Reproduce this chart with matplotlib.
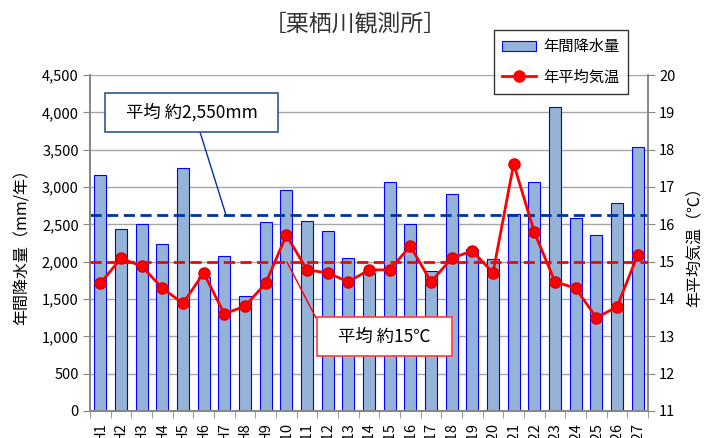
import matplotlib
matplotlib.use('Agg')
import matplotlib.pyplot as plt
from matplotlib.patches import Rectangle
from matplotlib.lines import Line2D
import numpy as np

plt.rcParams['font.family'] = ['Noto Sans CJK JP', 'DejaVu Sans']

# データ
nendo = ['H%d' % i for i in range(1, 28)]
kousuiryou = [3160, 2440, 2500, 2240, 3250, 1790, 2080, 1540, 2530, 2960,
              2545, 2415, 2045, 1850, 3065, 2500, 1880, 2905, 2170, 2030,
              2640, 3065, 4070, 2585, 2360, 2790, 3530]
kion = [14.42, 15.09, 14.88, 14.29, 13.88, 14.70, 13.60, 13.81, 14.42, 15.71,
        14.78, 14.70, 14.46, 14.78, 14.78, 15.42, 14.46, 15.09, 15.29, 14.70,
        17.62, 15.79, 14.46, 14.29, 13.50, 13.79, 15.18]
heikin_kousui = 2620   # 線の位置（ラベルは約2,550mm）
heikin_kion = 15.0

W, H = 708, 438
fig = plt.figure(figsize=(W / 100, H / 100), dpi=100)
ax = fig.add_axes([90 / W, 1 - 411 / H, (648 - 90) / W, (411 - 75) / H])
ax2 = ax.twinx()

x = np.arange(len(nendo))
grid_c = '#A6A6A6'
spine_c = '#868686'

# 降水量の棒
ax.bar(x, kousuiryou, width=0.58, color='#95B3D7', edgecolor='#0000FF',
       linewidth=0.8, zorder=2)
ax.set_ylim(0, 4500)
ax.set_yticks(np.arange(0, 4501, 500))
ax.set_yticklabels(['{:,}'.format(v) for v in range(0, 4501, 500)])
ax.set_xlim(-0.5, len(nendo) - 0.5)
ax.yaxis.grid(True, color=grid_c, linewidth=1, zorder=0)
ax.set_axisbelow(True)
ax.axhline(heikin_kousui, color='#0033A0', linestyle=(0, (4, 2)), linewidth=2, zorder=3)

ax.set_xticks(x)
ax.set_xticklabels(nendo, rotation=90, fontsize=10.5)
ax.set_xticks(np.arange(-0.5, len(nendo), 1), minor=True)
ax.tick_params(axis='x', which='major', length=0, pad=8)
ax.tick_params(axis='x', which='minor', length=5, color=spine_c, direction='out')
ax.tick_params(axis='y', length=5, color=spine_c, labelsize=10.5, pad=3)

# 気温の折れ線
ax2.plot(x, kion, color='#FF0000', linewidth=2, marker='o', markersize=8,
         markerfacecolor='#FF0000', markeredgecolor='#E00000', zorder=4)
ax2.axhline(heikin_kion, color='#FF0000', linestyle=(0, (4, 2)), linewidth=2, zorder=3)
ax2.set_ylim(11, 20)
ax2.set_yticks(range(11, 21))
ax2.tick_params(axis='y', length=5, color=spine_c, labelsize=10.5, pad=3)

ax.set_zorder(1)
ax2.set_zorder(2)
ax.patch.set_visible(False)

for a in (ax, ax2):
    a.spines['top'].set_visible(False)
    for s in ('left', 'right', 'bottom'):
        a.spines[s].set_color(spine_c)
        a.spines[s].set_linewidth(1.2)

ax.set_ylabel('年間降水量（mm/年）', fontsize=11.5, labelpad=8)
ax2.set_ylabel('年平均気温（℃）', fontsize=11.5, rotation=90, labelpad=8)

fig.text(355 / W, 1 - 24 / H, '［栗栖川観測所］', fontsize=16.5, ha='center',
         va='center', color='#333333')

# 凡例
leg = ax2.legend(
    [Rectangle((0, 0), 1, 1, facecolor='#95B3D7', edgecolor='#0000FF', linewidth=0.8),
     Line2D([], [], color='#FF0000', linewidth=2, marker='o', markersize=8)],
    ['年間降水量', '年平均気温'],
    loc='upper left', bbox_to_anchor=(494 / W, 1 - 30 / H), bbox_transform=fig.transFigure,
    fontsize=11, frameon=True, fancybox=False, edgecolor='black', borderaxespad=0,
    handlelength=2.2, labelspacing=0.85, borderpad=0.55, handletextpad=0.5)
leg.get_frame().set_linewidth(1)


def fig_box(x0, y0, x1, y1, ec, text):
    r = Rectangle((x0 / W, 1 - y1 / H), (x1 - x0) / W, (y1 - y0) / H,
                  transform=fig.transFigure, facecolor='white', edgecolor=ec,
                  linewidth=1.2, zorder=10)
    fig.patches.append(r)
    fig.text((x0 + x1) / 2 / W, 1 - (y0 + y1) / 2 / H, text, fontsize=12.5,
             ha='center', va='center', zorder=11)


def fig_line(xa, ya, xb, yb, c):
    fig.lines.append(Line2D([xa / W, xb / W], [1 - ya / H, 1 - yb / H],
                            transform=fig.transFigure, color=c, linewidth=1, zorder=9))


fig_line(200, 132, 226, 215, '#0033A0')
fig_box(105, 93, 278, 132, '#2F5597', '平均 約2,550mm')
fig_line(287, 262, 316, 318, '#FF0000')
fig_box(317, 317, 452, 356, '#FF3B3B', '平均 約15℃')

fig.savefig('out.png', dpi=100)
